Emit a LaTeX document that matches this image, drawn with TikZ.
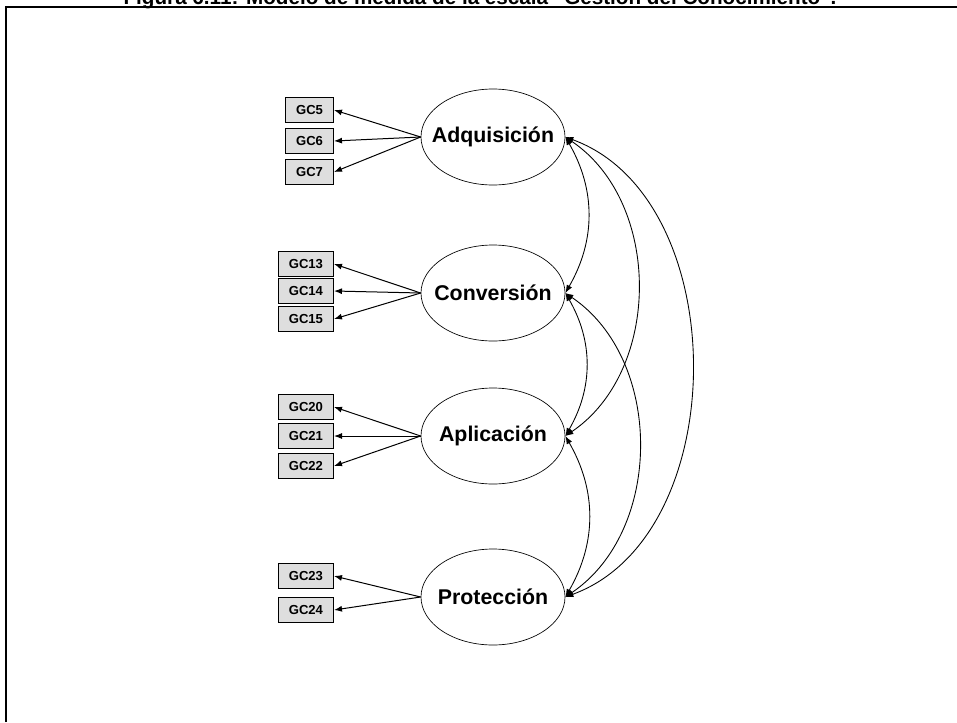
\documentclass[tikz,border=0pt]{standalone}
\usepackage{fontspec}
\setmainfont{Liberation Sans}
\usetikzlibrary{shapes.geometric,arrows.meta}

\tikzset{
  factor/.style={draw, ellipse, line width=0.5pt, minimum width=108pt, minimum height=72pt,
    inner xsep=-8pt, inner ysep=0pt, font=\fontsize{16}{18}\selectfont\bfseries},
  item/.style={draw, fill=black!13, line width=0.5pt, anchor=east, minimum height=19pt,
    inner xsep=8pt, inner ysep=0pt, font=\fontsize{9.8}{11}\selectfont\bfseries},
  load/.style={-{Latex[length=6pt,width=4.5pt]}, line width=0.75pt},
  cov/.style={{Latex[length=6pt,width=4.5pt]}-{Latex[length=6pt,width=4.5pt]}, line width=0.65pt}
}

\begin{document}
\begin{tikzpicture}[x=0.75pt, y=-0.75pt]
    \useasboundingbox (0,0) rectangle (957,722);

    % caption, partly cut off by the page edge
    \node[anchor=base, font=\fontsize{15.5}{17}\selectfont\bfseries] (caption) at (480,4)
        {Figura 6.11: Modelo de medida de la escala ``Gestión del Conocimiento''.};
    \draw[line width=1.5pt] (6,722) -- (6,7) -- (960,7);

    % latent factors
    \node[factor] (adq) at (493,137) {Adquisición};
    \node[factor] (conv) at (493,293) {Conversión};
    \node[factor] (apl) at (493,436) {Aplicación};
    \node[factor] (prot) at (493,597) {Protección};

    % indicators
    \node[item] (gc5) at (334,110) {GC5};
    \node[item] (gc6) at (334,141) {GC6};
    \node[item] (gc7) at (334,172) {GC7};
    \node[item] (gc13) at (334,264) {GC13};
    \node[item] (gc14) at (334,291) {GC14};
    \node[item] (gc15) at (334,319) {GC15};
    \node[item] (gc20) at (334,407) {GC20};
    \node[item] (gc21) at (334,436) {GC21};
    \node[item] (gc22) at (334,466) {GC22};
    \node[item] (gc23) at (334,576) {GC23};
    \node[item] (gc24) at (334,610) {GC24};

    % loadings
    \draw[load] (adq.west) -- (gc5.east);
    \draw[load] (adq.west) -- (gc6.east);
    \draw[load] (adq.west) -- (gc7.east);
    \draw[load] (conv.west) -- (gc13.east);
    \draw[load] (conv.west) -- (gc14.east);
    \draw[load] (conv.west) -- (gc15.east);
    \draw[load] (apl.west) -- (gc20.east);
    \draw[load] (apl.west) -- (gc21.east);
    \draw[load] (apl.west) -- (gc22.east);
    \draw[load] (prot.west) -- (gc23.east);
    \draw[load] (prot.west) -- (gc24.east);

    % covariances between factors
    \draw[cov] (adq.east) to[bend left=30] (conv.east);
    \draw[cov] (conv.east) to[bend left=30] (apl.east);
    \draw[cov] (apl.east) to[bend left=30] (prot.east);
    \draw[cov] (adq.east) to[bend left=56] (apl.east);
    \draw[cov] (conv.east) to[bend left=56] (prot.east);
    \draw[cov] (adq.east) to[bend left=70] (prot.east);
\end{tikzpicture}
\end{document}
